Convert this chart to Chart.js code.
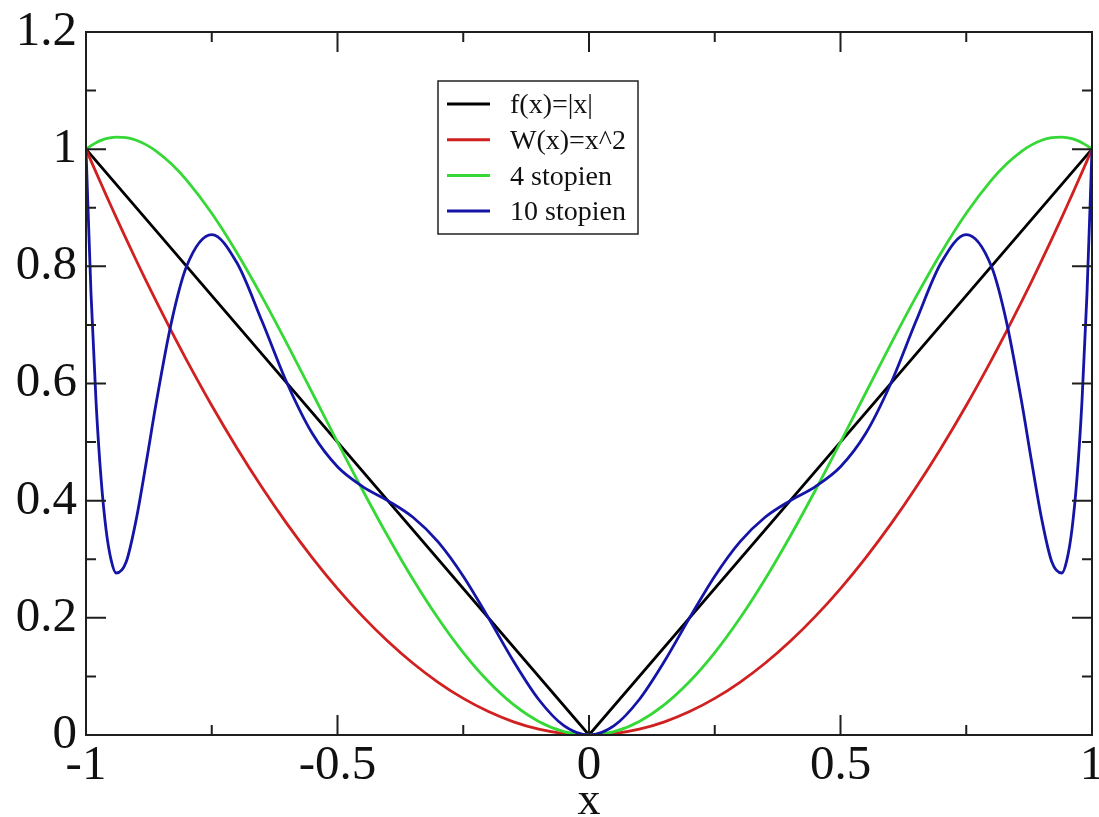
<!DOCTYPE html>
<html>
<head>
<meta charset="utf-8">
<title>f(x)=|x| approximations</title>
<script src="https://cdn.jsdelivr.net/npm/chart.js@4.4.1/dist/chart.umd.min.js"></script>
<style>
  html, body { margin: 0; padding: 0; background: #fff; }
  #wrap { width: 1099px; height: 817px; position: relative; }
</style>
</head>
<body>
<div id="wrap"><canvas id="approxChart"></canvas></div>
<script>
/* ------------------------------------------------------------------
   DATA — values
   ------------------------------------------------------------------ */
var xs = [
  -1, -0.99, -0.98, -0.97, -0.96, -0.95, -0.94, -0.92, -0.9, -0.88, -0.86, -0.83, -0.8, -0.75,
  -0.7, -0.65, -0.6, -0.55, -0.5, -0.45, -0.4, -0.35, -0.3, -0.25, -0.2, -0.15, -0.1, -0.05,
  0,
  0.05, 0.1, 0.15, 0.2, 0.25, 0.3, 0.35, 0.4, 0.45, 0.5, 0.55, 0.6, 0.65, 0.7,
  0.75, 0.8, 0.83, 0.86, 0.88, 0.9, 0.92, 0.94, 0.95, 0.96, 0.97, 0.98, 0.99, 1
];

// f(x)=|x| is a straight V, three points are enough
var absXs   = [-1, 0, 1];
var absVals = [1, 0, 1];

var squareVals = [
  1, 0.9801, 0.9604, 0.9409, 0.9216, 0.9025, 0.8836, 0.8464, 0.81, 0.7744, 0.7396, 0.6889, 0.64, 0.5625,
  0.49, 0.4225, 0.36, 0.3025, 0.25, 0.2025, 0.16, 0.1225, 0.09, 0.0625, 0.04, 0.0225, 0.01, 0.0025,
  0,
  0.0025, 0.01, 0.0225, 0.04, 0.0625, 0.09, 0.1225, 0.16, 0.2025, 0.25, 0.3025, 0.36, 0.4225, 0.49,
  0.5625, 0.64, 0.6889, 0.7396, 0.7744, 0.81, 0.8464, 0.8836, 0.9025, 0.9216, 0.9409, 0.9604, 0.9801, 1
];

var deg4Vals = [
  1, 1.0061, 1.0111, 1.015, 1.0179, 1.0198, 1.0207, 1.0197, 1.0152, 1.0073, 0.9964, 0.9747, 0.9472, 0.8906,
  0.8232, 0.7478, 0.6672, 0.5838, 0.5, 0.4178, 0.3392, 0.2658, 0.1992, 0.1406, 0.0912, 0.0518, 0.0232, 0.0058,
  0,
  0.0058, 0.0232, 0.0518, 0.0912, 0.1406, 0.1992, 0.2658, 0.3392, 0.4178, 0.5, 0.5838, 0.6672, 0.7478, 0.8232,
  0.8906, 0.9472, 0.9747, 0.9964, 1.0073, 1.0152, 1.0197, 1.0207, 1.0198, 1.0179, 1.015, 1.0111, 1.0061, 1
];

var deg10Vals = [
  1, 0.7525, 0.5683, 0.4371, 0.3498, 0.2986, 0.2765, 0.2958, 0.3686, 0.4664, 0.5691, 0.7052, 0.8, 0.8542,
  0.806, 0.7062, 0.6, 0.5145, 0.4579, 0.4241, 0.4, 0.3717, 0.3297, 0.2711, 0.2, 0.1258, 0.0606, 0.0159,
  0,
  0.0159, 0.0606, 0.1258, 0.2, 0.2711, 0.3297, 0.3717, 0.4, 0.4241, 0.4579, 0.5145, 0.6, 0.7062, 0.806,
  0.8542, 0.8, 0.7052, 0.5691, 0.4664, 0.3686, 0.2958, 0.2765, 0.2986, 0.3498, 0.4371, 0.5683, 0.7525, 1
];

var seriesLabels = ['f(x)=|x|', 'W(x)=x^2', '4 stopien', '10 stopien'];

var xMajorTicks = [-1, -0.5, 0, 0.5, 1];
var xMinorTicks = [-0.75, -0.25, 0.25, 0.75];
var yMajorTicks = [0, 0.2, 0.4, 0.6, 0.8, 1, 1.2];
var yMinorTicks = [0.1, 0.3, 0.5, 0.7, 0.9, 1.1];

/* ------------------------------------------------------------------
   STYLE
   ------------------------------------------------------------------ */
var COLORS = {
  abs:    '#000000',
  square: '#d02020',
  deg4:   '#36d836',
  deg10:  '#1414a6',
  frame:  '#1e1e1e'
};
var SERIF = "'Liberation Serif', 'DejaVu Serif', serif";

function toPoints(xv, yv) {
  return xv.map(function (x, i) { return { x: x, y: yv[i] }; });
}

/* ------------------------------------------------------------------
   FRAME + INWARD TICKS (xmgrace style, all four sides)
   ------------------------------------------------------------------ */
var frameTicksPlugin = {
  id: 'frameTicks',
  afterDatasetsDraw: function (chart) {
    var ctx = chart.ctx;
    var a = chart.chartArea;
    var sx = chart.scales.x, sy = chart.scales.y;
    ctx.save();
    ctx.strokeStyle = COLORS.frame;
    ctx.lineWidth = 2;
    ctx.beginPath();

    function xTick(v, len) {
      var px = sx.getPixelForValue(v);
      ctx.moveTo(px, a.bottom); ctx.lineTo(px, a.bottom - len);
      ctx.moveTo(px, a.top);    ctx.lineTo(px, a.top + len);
    }
    function yTick(v, len) {
      var py = sy.getPixelForValue(v);
      ctx.moveTo(a.left, py);  ctx.lineTo(a.left + len, py);
      ctx.moveTo(a.right, py); ctx.lineTo(a.right - len, py);
    }
    xMajorTicks.forEach(function (v) { xTick(v, 20); });
    xMinorTicks.forEach(function (v) { xTick(v, 10); });
    yMajorTicks.forEach(function (v) { yTick(v, 20); });
    yMinorTicks.forEach(function (v) { yTick(v, 10); });
    ctx.stroke();

    ctx.strokeRect(a.left, a.top, a.right - a.left, a.bottom - a.top);
    ctx.restore();
  }
};

/* ------------------------------------------------------------------
   LEGEND BOX inside the plot
   ------------------------------------------------------------------ */
var boxLegendPlugin = {
  id: 'boxLegend',
  afterDraw: function (chart) {
    var ctx = chart.ctx;
    var bx = 438, by = 81, bw = 200, bh = 153;
    ctx.save();
    ctx.fillStyle = '#fff';
    ctx.fillRect(bx, by, bw, bh);
    ctx.strokeStyle = '#222';
    ctx.lineWidth = 1.5;
    ctx.strokeRect(bx, by, bw, bh);

    ctx.font = '28px ' + SERIF;
    ctx.textBaseline = 'middle';
    ctx.textAlign = 'left';
    seriesLabels.forEach(function (label, i) {
      var ds = chart.data.datasets[i];
      var y = 104 + i * 35.7;
      ctx.strokeStyle = ds.borderColor;
      ctx.lineWidth = 3;
      ctx.beginPath();
      ctx.moveTo(447, y);
      ctx.lineTo(490, y);
      ctx.stroke();
      ctx.fillStyle = '#111';
      ctx.fillText(label, 510, y + 2);
    });
    ctx.restore();
  }
};

/* ------------------------------------------------------------------
   CHART
   ------------------------------------------------------------------ */
function initApproxChart() {
  var canvas = document.getElementById('approxChart');
  if (!canvas) return;

  var lineBase = { pointRadius: 0, borderWidth: 2.8, fill: false, showLine: true };

  new Chart(canvas, {
    type: 'scatter',
    data: {
      datasets: [
        Object.assign({ label: seriesLabels[0], data: toPoints(absXs, absVals),
          borderColor: COLORS.abs, tension: 0, order: 4 }, lineBase),
        Object.assign({ label: seriesLabels[1], data: toPoints(xs, squareVals),
          borderColor: COLORS.square, cubicInterpolationMode: 'monotone', order: 3 }, lineBase),
        Object.assign({ label: seriesLabels[2], data: toPoints(xs, deg4Vals),
          borderColor: COLORS.deg4, cubicInterpolationMode: 'monotone', order: 2 }, lineBase),
        Object.assign({ label: seriesLabels[3], data: toPoints(xs, deg10Vals),
          borderColor: COLORS.deg10, cubicInterpolationMode: 'monotone', order: 1 }, lineBase)
      ]
    },
    options: {
      responsive: true,
      maintainAspectRatio: false,
      animation: false,
      layout: { padding: { top: 32, right: 7, bottom: 0, left: 0 } },
      plugins: {
        legend: { display: false },
        tooltip: { enabled: false }
      },
      scales: {
        x: {
          type: 'linear',
          min: -1,
          max: 1,
          grid: { display: false, drawTicks: false },
          border: { display: false },
          afterBuildTicks: function (scale) {
            scale.ticks = xMajorTicks.map(function (v) { return { value: v }; });
          },
          afterFit: function (scale) {
            scale.height = 82;
            scale.paddingLeft = 0;
            scale.paddingRight = 0;
          },
          ticks: {
            autoSkip: false,
            maxRotation: 0,
            padding: 2,
            color: '#111',
            font: { family: SERIF, size: 49 },
            callback: function (v) { return String(+(+v).toFixed(2)); }
          },
          title: {
            display: true,
            text: 'x',
            color: '#111',
            padding: { top: 0, bottom: 0 },
            font: { family: SERIF, size: 46, lineHeight: '30px' }
          }
        },
        y: {
          type: 'linear',
          min: 0,
          max: 1.2,
          grid: { display: false, drawTicks: false },
          border: { display: false },
          afterBuildTicks: function (scale) {
            scale.ticks = yMajorTicks.map(function (v) { return { value: v }; });
          },
          afterFit: function (scale) {
            scale.width = 86;
            scale.paddingTop = 0;
            scale.paddingBottom = 0;
          },
          ticks: {
            autoSkip: false,
            padding: 9,
            color: '#111',
            font: { family: SERIF, size: 49 },
            callback: function (v) { return String(+(+v).toFixed(2)); }
          }
        }
      }
    },
    plugins: [frameTicksPlugin, boxLegendPlugin]
  });
}

initApproxChart();
</script>
</body>
</html>
